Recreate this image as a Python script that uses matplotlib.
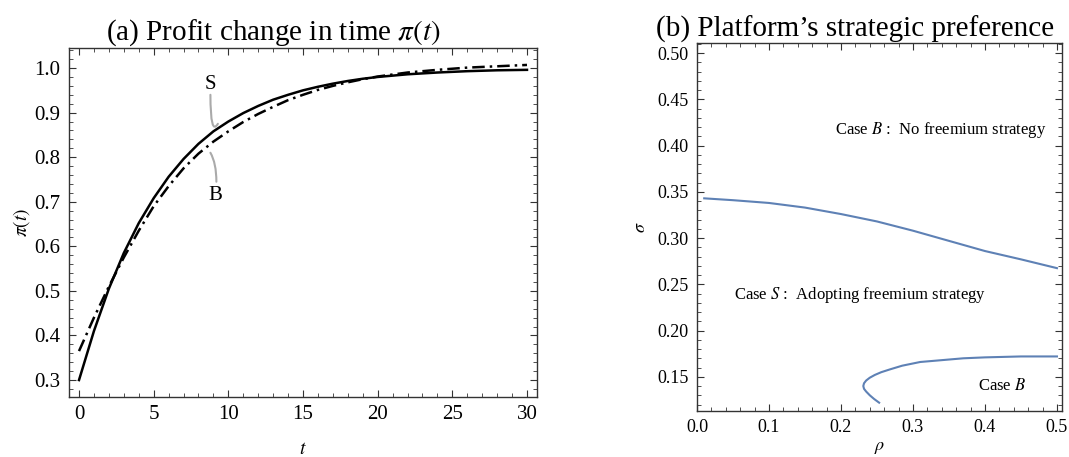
import matplotlib.pyplot as plt
from matplotlib.ticker import MultipleLocator, FormatStrFormatter

plt.rcParams['font.family'] = ['Liberation Serif', 'DejaVu Serif']
plt.rcParams['mathtext.fontset'] = 'stix'

# panel (a): profit over time
t = [0, 1, 2, 3, 4, 5, 6, 7, 8, 9, 10, 11, 12, 13, 14, 15, 16, 17, 18, 19, 20, 22, 24, 26, 28, 30]
profit_s = [0.300, 0.410, 0.505, 0.585, 0.652, 0.708, 0.756, 0.796, 0.830, 0.858, 0.880, 0.899, 0.915,
            0.929, 0.940, 0.950, 0.958, 0.965, 0.971, 0.976, 0.980, 0.986, 0.990, 0.993, 0.995, 0.996]
profit_b = [0.365, 0.440, 0.510, 0.575, 0.635, 0.690, 0.735, 0.775, 0.808, 0.835, 0.858, 0.879, 0.897,
            0.913, 0.928, 0.940, 0.951, 0.960, 0.968, 0.975, 0.981, 0.990, 0.996, 1.001, 1.004, 1.007]

# panel (b): boundaries between regions
rho_upper = [0.01, 0.05, 0.10, 0.15, 0.20, 0.25, 0.30, 0.35, 0.40, 0.45, 0.50]
sigma_upper = [0.343, 0.341, 0.338, 0.333, 0.326, 0.318, 0.308, 0.297, 0.286, 0.277, 0.2675]
rho_lower = [0.253, 0.246, 0.240, 0.235, 0.232, 0.231, 0.232, 0.235, 0.240, 0.247, 0.256, 0.268,
             0.285, 0.310, 0.340, 0.370, 0.400, 0.450, 0.500]
sigma_lower = [0.122, 0.126, 0.130, 0.134, 0.137, 0.140, 0.143, 0.146, 0.149, 0.152, 0.155, 0.158,
               0.162, 0.166, 0.168, 0.170, 0.171, 0.172, 0.172]

blue = '#5e81b5'
W, H = 1069, 457
fig = plt.figure(figsize=(W / 100, H / 100), dpi=100)
ax1 = fig.add_axes([69 / W, (H - 397) / H, (537 - 69) / W, (397 - 48) / H])
ax2 = fig.add_axes([697 / W, (H - 411) / H, (1062 - 697) / W, (411 - 43) / H])


def style(ax, size):
    for s in ax.spines.values():
        s.set_color('#333333')
        s.set_linewidth(1.0)
    ax.tick_params(which='both', direction='in', top=True, right=True, color='#333333',
                   labelsize=size, pad=6)
    ax.tick_params(which='major', length=5, width=0.8)
    ax.tick_params(which='minor', length=3, width=0.6)


ax1.plot(t, profit_s, color='black', lw=1.8)
ax1.plot(t, profit_b, color='black', lw=1.8, ls=(0, (5, 2, 1, 2)))
ax1.set_xlim(-0.67, 30.67)
ax1.set_ylim(0.262, 1.045)
ax1.xaxis.set_major_locator(MultipleLocator(5))
ax1.xaxis.set_minor_locator(MultipleLocator(1))
ax1.yaxis.set_major_locator(MultipleLocator(0.1))
ax1.yaxis.set_minor_locator(MultipleLocator(0.02))
ax1.yaxis.set_major_formatter(FormatStrFormatter('%.1f'))
style(ax1, 15)
ax1.set_title(r'(a) Profit change in time $\pi(t)$', fontsize=21, pad=3, x=0.436)
ax1.set_xlabel(r'$t$', fontsize=14, labelpad=12)
ax1.set_ylabel(r'$\pi(t)$', fontsize=14, labelpad=2)
ax1.text(8.8, 0.962, 'S', fontsize=15, ha='center', va='center')
ax1.text(9.1, 0.715, 'B', fontsize=15, ha='center', va='center')
ax1.annotate('', xy=(9.3, 0.875), xytext=(8.8, 0.94),
             arrowprops=dict(arrowstyle='-', color='#aaaaaa', lw=1.5, shrinkA=0, shrinkB=0,
                             connectionstyle='angle3,angleA=90,angleB=60'))
ax1.annotate('', xy=(9.2, 0.745), xytext=(8.8, 0.81),
             arrowprops=dict(arrowstyle='-', color='#aaaaaa', lw=1.5, shrinkA=0, shrinkB=0,
                             connectionstyle='angle3,angleA=-60,angleB=90'))

ax2.plot(rho_upper, sigma_upper, color=blue, lw=1.5)
ax2.plot(rho_lower, sigma_lower, color=blue, lw=1.5)
ax2.set_xlim(0, 0.507)
ax2.set_ylim(0.113, 0.511)
ax2.xaxis.set_major_locator(MultipleLocator(0.1))
ax2.xaxis.set_minor_locator(MultipleLocator(0.02))
ax2.yaxis.set_major_locator(MultipleLocator(0.05))
ax2.yaxis.set_minor_locator(MultipleLocator(0.01))
ax2.xaxis.set_major_formatter(FormatStrFormatter('%.1f'))
ax2.yaxis.set_major_formatter(FormatStrFormatter('%.2f'))
style(ax2, 13)
ax2.set_title("(b) Platform\u2019s strategic preference", fontsize=21, pad=3, x=0.433)
ax2.set_xlabel(r'$\rho$', fontsize=13, labelpad=2)
ax2.set_ylabel(r'$\sigma$', fontsize=13, labelpad=6)
ax2.text(0.339, 0.417, r'Case $B$ :  No freemium strategy', fontsize=12, ha='center', va='center')
ax2.text(0.227, 0.238, r'Case $S$ :  Adopting freemium strategy', fontsize=12, ha='center', va='center')
ax2.text(0.424, 0.140, r'Case $B$', fontsize=12, ha='center', va='center')

fig.savefig('out.png', dpi=100)
